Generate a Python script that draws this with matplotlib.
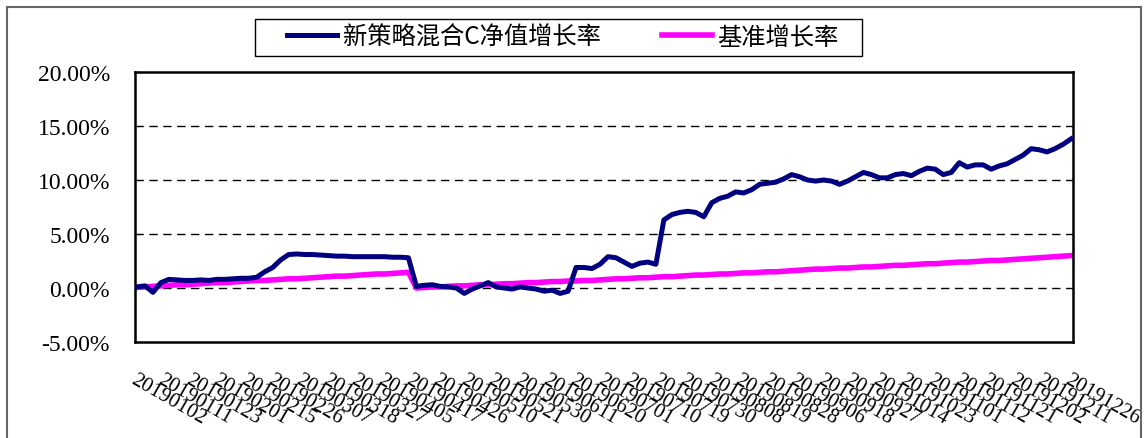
import numpy as np
import matplotlib
matplotlib.use("Agg")
import matplotlib.pyplot as plt
from matplotlib.patches import Rectangle
from matplotlib.ticker import FuncFormatter

plt.rcParams['font.family'] = ['Liberation Serif', 'Noto Sans CJK SC', 'DejaVu Sans']

# growth rates in %, one value per sampled trading day
fund_growth = [
    0.1, 0.2, -0.4, 0.5, 0.8, 0.75, 0.7, 0.7, 0.75, 0.7,
    0.8, 0.8, 0.85, 0.9, 0.9, 1.0, 1.5, 1.9, 2.6, 3.1,
    3.15, 3.1, 3.1, 3.05, 3.0, 2.95, 2.95, 2.9, 2.9, 2.9,
    2.9, 2.9, 2.85, 2.85, 2.8, 0.15, 0.25, 0.3, 0.15, 0.1,
    0.0, -0.5, -0.1, 0.2, 0.5, 0.1, 0.0, -0.1, 0.1, 0.0,
    -0.1, -0.3, -0.2, -0.5, -0.3, 1.9, 1.9, 1.8, 2.2, 2.9,
    2.8, 2.4, 2.0, 2.3, 2.4, 2.2, 6.3, 6.8, 7.0, 7.1,
    7.0, 6.6, 7.9, 8.3, 8.5, 8.9, 8.8, 9.1, 9.6, 9.7,
    9.8, 10.1, 10.5, 10.3, 10.0, 9.9, 10.0, 9.9, 9.6, 9.9,
    10.3, 10.7, 10.5, 10.2, 10.2, 10.5, 10.6, 10.4, 10.8, 11.1,
    11.0, 10.5, 10.7, 11.6, 11.2, 11.4, 11.4, 11.0, 11.3, 11.5,
    11.9, 12.3, 12.9, 12.8, 12.6, 12.9, 13.3, 13.8,
]

bench_growth = [
    0.05, 0.1, 0.15, 0.2, 0.25, 0.3, 0.3, 0.35, 0.4, 0.45,
    0.5, 0.5, 0.55, 0.6, 0.65, 0.7, 0.7, 0.75, 0.8, 0.85,
    0.85, 0.9, 0.95, 1.0, 1.05, 1.1, 1.1, 1.15, 1.2, 1.25,
    1.3, 1.3, 1.35, 1.4, 1.45,
    0.0, 0.05, 0.1, 0.1, 0.15, 0.2, 0.2, 0.25, 0.3, 0.3,
    0.35, 0.4, 0.4, 0.45, 0.5, 0.5, 0.55, 0.6, 0.6, 0.65,
    0.65, 0.7, 0.7, 0.75,
    0.8, 0.85, 0.85, 0.9, 0.95, 0.95, 1.0, 1.05, 1.05, 1.1,
    1.15, 1.2, 1.2, 1.25, 1.3, 1.3, 1.35, 1.4, 1.4, 1.45,
    1.5, 1.5, 1.55, 1.6, 1.65, 1.7, 1.75, 1.75, 1.8, 1.85,
    1.85, 1.9, 1.95, 1.95, 2.0, 2.05, 2.1, 2.1, 2.15, 2.2,
    2.25, 2.25, 2.3, 2.35, 2.4, 2.4, 2.45, 2.5, 2.55, 2.55,
    2.6, 2.65, 2.7, 2.75, 2.8, 2.85, 2.9, 2.95, 3.0,
]

date_labels = [
    "20190102", "20190111", "20190123", "20190201", "20190215",
    "20190226", "20190307", "20190318", "20190327", "20190405",
    "20190417", "20190426", "20190510", "20190521", "20190530",
    "20190611", "20190620", "20190701", "20190710", "20190719",
    "20190730", "20190808", "20190819", "20190828", "20190906",
    "20190918", "20190927", "20191014", "20191023", "20191101",
    "20191112", "20191121", "20191202", "20191211", "20191226",
]

fund_name = "新策略混合C净值增长率"
bench_name = "基准增长率"

n = len(fund_growth)
x = np.arange(n)

W, H = 1145, 439
fig = plt.figure(figsize=(W / 100, H / 100), dpi=100)
ax = fig.add_axes([135 / W, 1 - 343 / H, 938 / W, 270 / H])

# outer frame of the whole picture
fig.patches.append(Rectangle((7 / W, -0.05), 1134 / W, 1.05 - 8 / H,
                             transform=fig.transFigure, fill=False,
                             edgecolor='#666666', linewidth=1.5))

ax.plot(x, fund_growth, color='#000080', linewidth=3.6, label=fund_name, zorder=3)
ax.plot(x, bench_growth, color='#FF00FF', linewidth=4.0, label=bench_name, zorder=2)

ax.set_ylim(-5, 20)
ax.set_xlim(-0.25, n - 0.75)
ax.set_yticks([-5, 0, 5, 10, 15, 20])
ax.yaxis.set_major_formatter(FuncFormatter(lambda v, p: "%.2f%%" % v))
for yv in [0, 5, 10, 15]:
    ax.axhline(yv, color='black', linewidth=1.0, linestyle=(0, (6, 4)), zorder=1)

tick_pos = np.linspace(0, n - 1, len(date_labels))
ax.set_xticks(tick_pos)
ax.set_xticklabels(date_labels, rotation=-30, ha='left', va='top',
                   rotation_mode='anchor', fontsize=15)
ax.tick_params(axis='x', length=0, pad=20)
ax.tick_params(axis='y', direction='in', length=4, labelsize=17, pad=18)

for sp in ax.spines.values():
    sp.set_linewidth(1.8)

# legend without its own frame; frame drawn as a separate box
leg = fig.legend(loc='center', bbox_to_anchor=(563 / W, 1 - 38 / H),
                 ncol=2, frameon=False, handlelength=2.05, columnspacing=2.5,
                 handletextpad=0.25, prop={'family': ['Noto Sans CJK SC'], 'size': 17.5})
fig.patches.append(Rectangle((255 / W, 1 - 57 / H), 607 / W, 37 / H,
                             transform=fig.transFigure, fill=False,
                             edgecolor='black', linewidth=1.0))

fig.savefig("out.png", dpi=100)
